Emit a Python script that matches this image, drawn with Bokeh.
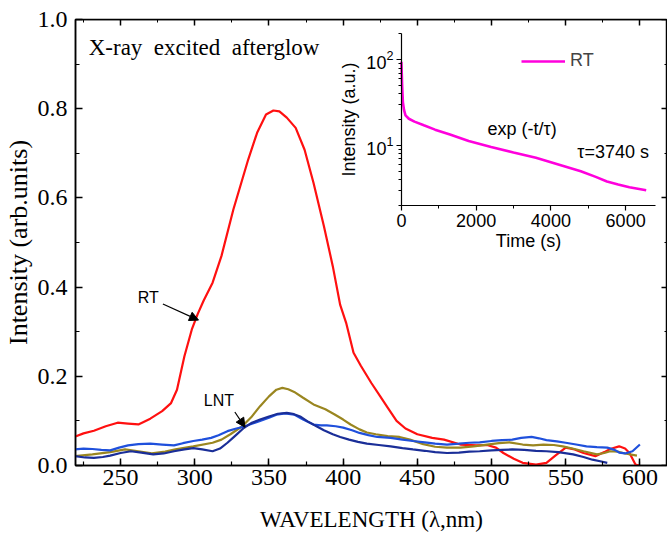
from bokeh.plotting import figure
from bokeh.models import (Range1d, LinearAxis, LogAxis, LogScale, FixedTicker,
                          SingleIntervalTicker, PrintfTickFormatter, Label, Arrow,
                          NormalHead, Legend, LegendItem, CustomJSTickFormatter)
from bokeh.embed import file_html
from bokeh.resources import INLINE

SERIF = "Liberation Serif"
SANS = "Liberation Sans"

# ---------------- data ----------------
rt_wl = [218, 225, 232, 240, 248, 255, 262, 270, 278, 284, 288, 293, 298, 302, 306,
         312, 318, 326, 336, 342, 348, 353, 357, 362, 368, 374, 380, 387, 393, 398,
         402, 407, 412, 419, 425, 430, 436, 442, 450, 460, 468, 479, 490, 497, 503,
         508, 515, 521, 530, 537, 543, 550, 556, 562, 570, 576, 580, 586, 590, 593,
         597, 599.5]
rt_int = [0.063, 0.072, 0.078, 0.088, 0.096, 0.094, 0.092, 0.105, 0.122, 0.140, 0.170,
          0.245, 0.305, 0.340, 0.370, 0.410, 0.470, 0.574, 0.686, 0.746, 0.787, 0.796,
          0.794, 0.780, 0.757, 0.708, 0.634, 0.537, 0.447, 0.360, 0.320, 0.253, 0.223,
          0.185, 0.155, 0.130, 0.100, 0.083, 0.070, 0.062, 0.058, 0.047, 0.045, 0.046,
          0.040, 0.028, 0.015, 0.006, 0.002, 0.006, 0.022, 0.040, 0.036, 0.028, 0.021,
          0.030, 0.037, 0.043, 0.038, 0.028, 0.002, 0.0]

olive_wl = [219, 231, 243, 253, 262, 271, 280, 287, 299, 312, 318, 324, 332, 338, 344,
            350, 355, 359, 363, 367, 373, 380, 388, 394, 400, 405, 411, 416, 422, 430,
            438, 445, 454, 462, 470, 479, 488, 497, 505, 512, 521, 528, 535, 542, 548,
            556, 562, 571, 576, 580, 585, 590, 598]
olive_int = [0.021, 0.025, 0.030, 0.036, 0.032, 0.027, 0.031, 0.036, 0.043, 0.051, 0.058,
             0.070, 0.088, 0.108, 0.133, 0.155, 0.170, 0.174, 0.171, 0.165, 0.152, 0.137,
             0.126, 0.115, 0.103, 0.092, 0.081, 0.074, 0.070, 0.066, 0.064, 0.058, 0.048,
             0.042, 0.040, 0.040, 0.043, 0.047, 0.050, 0.052, 0.047, 0.045, 0.047, 0.046,
             0.043, 0.037, 0.032, 0.025, 0.028, 0.032, 0.031, 0.027, 0.022]

blue_wl = [219, 225, 231, 237, 243, 249, 255, 262, 270, 278, 286, 292, 299, 305, 311,
           316, 322, 328, 333, 339, 344, 350, 355, 361, 367, 373, 380, 385, 389, 395,
           400, 406, 411, 417, 423, 432, 440, 447, 455, 462, 470, 478, 485, 492, 500,
           507, 514, 520, 527, 532, 537, 544, 550, 557, 564, 571, 578, 583, 586, 590,
           595, 600]
blue_int = [0.036, 0.038, 0.037, 0.035, 0.034, 0.040, 0.045, 0.048, 0.049, 0.047, 0.045,
            0.050, 0.055, 0.058, 0.062, 0.068, 0.077, 0.083, 0.087, 0.094, 0.100, 0.107,
            0.114, 0.117, 0.114, 0.103, 0.092, 0.090, 0.090, 0.088, 0.085, 0.079, 0.073,
            0.068, 0.064, 0.062, 0.058, 0.055, 0.052, 0.049, 0.047, 0.049, 0.051, 0.052,
            0.055, 0.057, 0.058, 0.062, 0.064, 0.061, 0.057, 0.054, 0.051, 0.047, 0.043,
            0.041, 0.040, 0.035, 0.029, 0.027, 0.032, 0.047]

navy_wl = [219, 226, 232, 238, 243, 250, 257, 264, 272, 279, 286, 293, 299, 305, 312,
           317, 322, 327, 333, 338, 344, 350, 356, 362, 366, 371, 376, 382, 387, 393,
           398, 404, 410, 416, 424, 432, 440, 447, 455, 462, 470, 478, 485, 492, 500,
           507, 514, 522, 530, 537, 545, 555, 562, 568, 574, 578]
navy_int = [0.021, 0.018, 0.017, 0.019, 0.022, 0.028, 0.032, 0.029, 0.025, 0.027, 0.032,
            0.036, 0.039, 0.036, 0.032, 0.038, 0.051, 0.066, 0.084, 0.095, 0.103, 0.110,
            0.116, 0.118, 0.116, 0.110, 0.099, 0.088, 0.079, 0.070, 0.064, 0.058, 0.053,
            0.049, 0.046, 0.043, 0.039, 0.036, 0.033, 0.030, 0.028, 0.029, 0.031, 0.032,
            0.034, 0.035, 0.036, 0.035, 0.033, 0.032, 0.030, 0.025, 0.019, 0.013, 0.009,
            0.006]

# inset: afterglow decay at RT
decay_t = [0, 20, 40, 70, 110, 200, 350, 600, 900, 1300, 1800, 2400, 3000, 3600, 4200,
           4800, 5200, 5500, 5800, 6100, 6550]
decay_i = [95, 50, 32, 26, 22.5, 20.5, 19, 17.2, 15.3, 13.4, 11.3, 9.6, 8.3, 7.2, 6.0,
           5.0, 4.3, 3.8, 3.5, 3.25, 3.0]

x_major = 50
y_major = 0.2
inset_t_major = 2000
inset_major = [10, 100]
inset_minor = [2, 3, 4, 5, 6, 7, 8, 9, 20, 30, 40, 50, 60, 70, 80, 90, 200]

# ---------------- figure ----------------
p = figure(width=667, height=534, output_backend="svg", toolbar_location=None,
           x_range=Range1d(219.6, 618.6), y_range=Range1d(0, 1),
           min_border_left=73, min_border_right=0, min_border_top=19,
           min_border_bottom=69)
p.grid.visible = False
p.outline_line_color = "black"
p.outline_line_width = 1.5

p.line(rt_wl, rt_int, color="#ff1010", line_width=2.2)
p.line(olive_wl, olive_int, color="#9a8620", line_width=2.2)
p.line(blue_wl, blue_int, color="#1f50dc", line_width=2.2)
p.line(navy_wl, navy_int, color="#1a2e98", line_width=2.2)


def style_main_axis(ax):
    ax.axis_line_width = 1.5
    ax.axis_line_color = "black"
    ax.major_tick_line_width = 1.5
    ax.major_tick_line_color = "black"
    ax.minor_tick_line_width = 1.2
    ax.minor_tick_line_color = "black"
    ax.major_tick_in = 7
    ax.major_tick_out = 0
    ax.minor_tick_in = 4
    ax.minor_tick_out = 0
    ax.major_label_text_font = SERIF
    ax.major_label_text_font_size = "24px"
    ax.major_label_text_color = "black"
    ax.axis_label_text_font = SERIF
    ax.axis_label_text_font_style = "normal"
    ax.axis_label_text_color = "black"


xax = p.xaxis[0]
xax.ticker = SingleIntervalTicker(interval=x_major, num_minor_ticks=2)
style_main_axis(xax)
xax.axis_label = "WAVELENGTH (λ,nm)"
xax.axis_label_text_font_size = "23px"
xax.major_label_standoff = 4
xax.axis_label_standoff = 19

yax = p.yaxis[0]
yax.ticker = SingleIntervalTicker(interval=y_major, num_minor_ticks=2)
yax.formatter = PrintfTickFormatter(format="%.1f")
style_main_axis(yax)
yax.axis_label = "Intensity (arb.units)"
yax.axis_label_text_font_size = "26px"
yax.major_label_standoff = 8
yax.axis_label_standoff = 2

# top frame edge: ticks pointing down
top = LinearAxis(fixed_location=0.999,
                 formatter=CustomJSTickFormatter(code="return ''"),
                 ticker=SingleIntervalTicker(interval=x_major, num_minor_ticks=2),
                 axis_line_width=1.5, major_tick_line_width=1.5,
                 major_tick_in=0, major_tick_out=6, minor_tick_in=0, minor_tick_out=3)
p.add_layout(top, "below")

# right frame edge: ticks only
right = LinearAxis(fixed_location=618.6, formatter=CustomJSTickFormatter(code="return ''"),
                   ticker=SingleIntervalTicker(interval=y_major, num_minor_ticks=2))
style_main_axis(right)
right.major_tick_in = 6
right.minor_tick_in = 3
right.axis_line_color = None
p.add_layout(right, "right")

# annotations on main plot
p.add_layout(Label(x=228.5, y=0.938, text="X-ray \u00a0excited \u00a0afterglow",
                   text_font=SERIF, text_font_size="23px", text_baseline="middle",
                   text_color="black"))
p.add_layout(Label(x=268.6, y=0.377, text="RT", text_font=SANS, text_font_size="16px",
                   text_align="center", text_baseline="middle", text_color="black"))
p.add_layout(Arrow(x_start=278.5, y_start=0.362, x_end=302.5, y_end=0.326,
                   line_width=1.2, line_color="black",
                   end=NormalHead(size=9, fill_color="black", line_color="black")))
p.add_layout(Label(x=316.3, y=0.146, text="LNT", text_font=SANS, text_font_size="16px",
                   text_align="center", text_baseline="middle", text_color="black"))
p.add_layout(Arrow(x_start=327.0, y_start=0.120, x_end=333.8, y_end=0.086,
                   line_width=1.2, line_color="black",
                   end=NormalHead(size=9, fill_color="black", line_color="black")))

# ---------------- inset (decay curve, log scale) ----------------
p.extra_x_ranges = {"t": Range1d(-8720, 7120)}
p.extra_y_ranges = {"log": Range1d(10 ** -2.734, 10 ** 2.470)}
p.extra_y_scales = {"log": LogScale()}

decay = p.line(decay_t, decay_i, x_range_name="t", y_range_name="log",
               color="#ff00dd", line_width=2.6)


def style_inset_axis(ax):
    ax.axis_line_width = 1.2
    ax.major_tick_line_width = 1.2
    ax.minor_tick_line_width = 1.0
    ax.major_tick_in = 0
    ax.major_tick_out = 5
    ax.minor_tick_in = 0
    ax.minor_tick_out = 3
    ax.major_label_text_font = SANS
    ax.major_label_text_font_size = "18px"
    ax.major_label_text_color = "black"
    ax.axis_label_text_font = SANS
    ax.axis_label_text_font_size = "18px"
    ax.axis_label_text_font_style = "normal"
    ax.axis_label_text_color = "black"


ix = LinearAxis(x_range_name="t", y_range_name="log", fixed_location=2.0,
                bounds=(0, 6800),
                ticker=SingleIntervalTicker(interval=inset_t_major, num_minor_ticks=2),
                axis_label="Time (s)")
style_inset_axis(ix)
ix.major_label_standoff = 4
ix.axis_label_standoff = 0
p.add_layout(ix, "below")

iy = LogAxis(x_range_name="t", y_range_name="log", fixed_location=0,
             bounds=(2, 200),
             ticker=FixedTicker(ticks=inset_major, minor_ticks=inset_minor),
             axis_label="Intensity (a.u.)")
style_inset_axis(iy)
iy.major_label_standoff = 3
iy.axis_label_standoff = 4
p.add_layout(iy, "left")

p.add_layout(Label(x=3230, y=15.4, x_range_name="t", y_range_name="log",
                   text="exp (-t/τ)", text_font=SANS, text_font_size="18px",
                   text_align="center", text_baseline="middle", text_color="black"))
p.add_layout(Label(x=5667, y=8.5, x_range_name="t", y_range_name="log",
                   text="τ=3740 s", text_font=SANS, text_font_size="18px",
                   text_align="center", text_baseline="middle", text_color="black"))

legend = Legend(items=[LegendItem(label="RT", renderers=[decay])],
                location=(446, 394), padding=0, margin=0, spacing=0,
                glyph_width=44, glyph_height=20, label_height=20, label_standoff=5,
                label_text_font=SANS, label_text_font_size="18px",
                border_line_color=None, background_fill_alpha=0)
p.add_layout(legend)

open("out.html", "w").write(file_html(p, INLINE))
